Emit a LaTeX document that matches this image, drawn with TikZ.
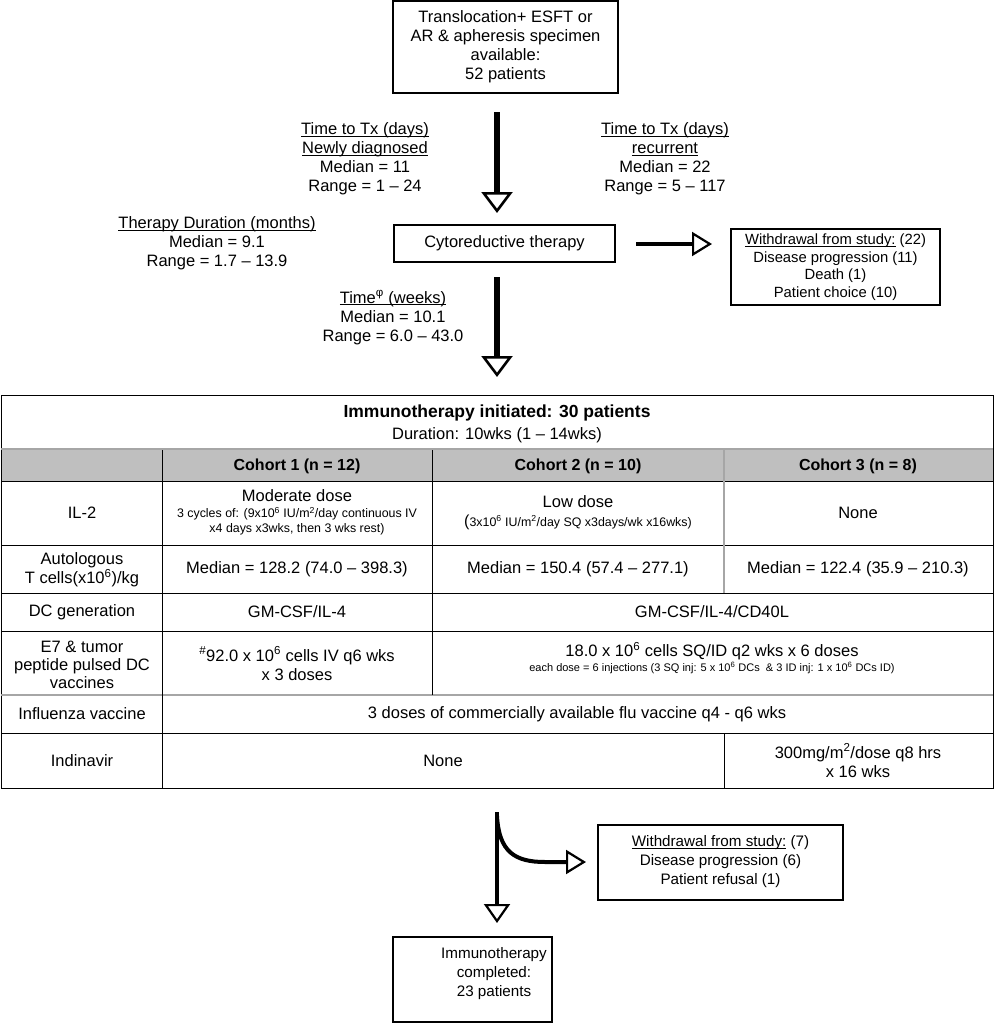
\documentclass[tikz,border=0pt]{standalone}
\usepackage{fontspec}
\setmainfont{Liberation Sans}
\usetikzlibrary{arrows.meta}
\newcommand\myul[1]{\setbox0\hbox{#1}\rlap{\rule[-2.3pt]{\wd0}{0.9pt}}\box0\relax}
\begin{document}
\begin{tikzpicture}[x=1pt,y=-1pt,
  txt/.style={font=\fontsize{16.5}{19}\selectfont, align=center, inner sep=0pt},
  mtxt/.style={font=\fontsize{15.2}{19.2}\selectfont, align=center, inner sep=0pt},
  ttl/.style={font=\bfseries\fontsize{17.5}{21}\selectfont, align=center, inner sep=0pt},
  hdr/.style={font=\bfseries\fontsize{16}{19}\selectfont, align=center, inner sep=0pt},
  sml/.style={font=\fontsize{12.4}{15}\selectfont, align=center, inner sep=0pt},
  tiny/.style={font=\fontsize{11}{13}\selectfont, align=center, inner sep=0pt},
  box/.style={draw, line width=1.6pt, inner sep=0pt},
  bigarrow/.style={line width=5.5pt, -{Triangle[fill=white, length=21pt, width=31pt, line width=2.6pt]}},
  midarrow/.style={line width=4pt, -{Triangle[fill=white, length=20pt, width=24pt, line width=2.2pt]}},
  tline/.style={line width=1pt},
  gline/.style={line width=2pt, gray!70},
]
\useasboundingbox (0,0) rectangle (994,1025);

% ---------- top flow ----------
\node[box, minimum width=225pt, minimum height=92pt] (start) at (505.5,47) {};
\node[txt] (starttxt) at (505.5,46.5) {Translocation+ ESFT or\\AR \& apheresis specimen\\available:\\52 patients};

\coordinate (a1s) at (497,112);
\coordinate (a1e) at (497,213);
\draw[bigarrow] (a1s) -- (a1e);

\node[txt] (ttxl) at (365,159) {\myul{Time to Tx (days)}\\\myul{Newly diagnosed}\\Median = 11\\Range = 1 – 24};
\node[txt] (ttxr) at (665,159) {\myul{Time to Tx (days)}\\\myul{recurrent}\\Median = 22\\Range = 5 – 117};

\node[box, minimum width=221pt, minimum height=37pt, txt] (cyto) at (504.5,243.5) {Cytoreductive therapy};
\node[txt] (tdur) at (217,243) {\myul{Therapy Duration (months)}\\Median = 9.1\\Range = 1.7 – 13.9};

\coordinate (a2s) at (636,244);
\coordinate (a2e) at (712,244);
\draw[midarrow] (a2s) -- (a2e);

\node[box, minimum width=209pt, minimum height=76pt] (wd1) at (835.5,267) {};
\node[txt, font=\fontsize{14.8}{17.5}\selectfont] (wd1txt) at (835.5,267) {\myul{Withdrawal from study:} (22)\\Disease progression (11)\\Death (1)\\Patient choice (10)};

\coordinate (a3s) at (497,277);
\coordinate (a3e) at (497,377);
\draw[bigarrow] (a3s) -- (a3e);
\node[txt] (time2) at (393,317.5) {\myul{Time\textsuperscript{φ} (weeks)}\\Median = 10.1\\Range = 6.0 – 43.0};

% ---------- table ----------
\fill[gray!50] (1,450) rectangle (993,481);
\draw[tline] (1,395) rectangle (993,788);
\draw[gline] (1,449) -- (993,449);
\draw[tline] (1,481) -- (993,481);
\draw[tline] (1,545) -- (993,545);
\draw[tline] (1,593) -- (993,593);
\draw[tline] (1,631) -- (993,631);
\draw[gline] (1,695) -- (993,695);
\draw[tline] (1,733) -- (993,733);
\draw[tline] (162,450) -- (162,788);
\draw[tline] (432,450) -- (432,695);
\draw[gline] (724,450) -- (724,593);
\draw[tline] (724,733) -- (724,788);

\node[ttl] (imm) at (497,413) {Immunotherapy initiated: 30 patients};
\node[txt] (dur) at (497,435) {Duration: 10wks (1 – 14wks)};
\node[hdr] (c1) at (297,466) {Cohort 1 (n = 12)};
\node[hdr] (c2) at (578,466) {Cohort 2 (n = 10)};
\node[hdr] (c3) at (858,466) {Cohort 3 (n = 8)};

\node[txt] (il2) at (82,513) {IL-2};
\node[txt] (mod) at (297,496) {Moderate dose};
\node[sml] (modsm) at (297,521.5) {3 cycles of: (9x10\textsuperscript{6} IU/m\textsuperscript{2}/day continuous IV\\x4 days x3wks, then 3 wks rest)};
\node[txt] (low) at (578,502) {Low dose};
\node[sml] (lowsm) at (578,522) {{\fontsize{16}{19}\selectfont(}3x10\textsuperscript{6} IU/m\textsuperscript{2}/day SQ x3days/wk x16wks)};
\node[txt] (none1) at (858,513) {None};

\node[txt] (auto) at (82,569.5) {Autologous\\T cells(x10\textsuperscript{6})/kg};
\node[txt] (med1) at (297,569) {Median = 128.2 (74.0 – 398.3)};
\node[txt] (med2) at (578,569) {Median = 150.4 (57.4 – 277.1)};
\node[txt] (med3) at (858,569) {Median = 122.4 (35.9 – 210.3)};

\node[txt] (dcg) at (82,612) {DC generation};
\node[txt] (dc1) at (297,612) {GM-CSF/IL-4};
\node[txt] (dc23) at (712,612) {GM-CSF/IL-4/CD40L};

\node[txt, font=\fontsize{16.5}{18}\selectfont] (e7) at (82,664.5) {E7 \& tumor\\peptide pulsed DC\\vaccines};
\node[txt] (e71) at (297,663.5) {\textsuperscript{\#}92.0 x 10\textsuperscript{6} cells IV q6 wks\\x 3 doses};
\node[txt] (e723) at (712,651) {18.0 x 10\textsuperscript{6} cells SQ/ID q2 wks x 6 doses};
\node[tiny] (e723sm) at (712,668) {each dose = 6 injections (3 SQ inj: 5 x 10\textsuperscript{6} DCs \ \& 3 ID inj: 1 x 10\textsuperscript{6} DCs ID)};

\node[txt] (flu) at (82,714) {Influenza vaccine};
\node[txt] (flu123) at (577,714) {3 doses of commercially available flu vaccine q4 - q6 wks};

\node[txt] (ind) at (82,761) {Indinavir};
\node[txt] (ind12) at (443,761) {None};
\node[txt] (ind3) at (858,760.5) {300mg/m\textsuperscript{2}/dose q8 hrs\\x 16 wks};

% ---------- bottom flow ----------
\coordinate (b1s) at (497,812);
\coordinate (b1e) at (497,923);
\draw[line width=4pt, -{Triangle[fill=white, length=19pt, width=26pt, line width=2.2pt]}] (b1s) -- (b1e);
\coordinate (b2s) at (497,816);
\coordinate (b2e) at (586,862);
\draw[line width=4pt, -{Triangle[fill=white, length=20pt, width=24pt, line width=2.2pt]}] (b2s) .. controls (499,852) and (515,862) .. (545,862) -- (b2e);

\node[box, minimum width=245pt, minimum height=75pt] (wd2) at (720.5,862.5) {};
\node[mtxt] (wd2txt) at (720.5,861.5) {\myul{Withdrawal from study:} (7)\\Disease progression (6)\\Patient refusal (1)};

\node[box, minimum width=159pt, minimum height=85pt] (done) at (472.5,979.5) {};
\node[mtxt] (donetxt) at (494,973.5) {Immunotherapy\\completed:\\23 patients};
\end{tikzpicture}
\end{document}
